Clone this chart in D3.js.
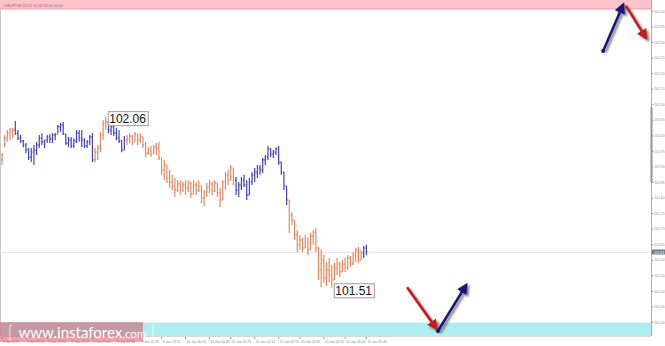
<!DOCTYPE html>
<html>
<head>
<meta charset="utf-8">
<script src="https://cdn.jsdelivr.net/npm/d3@7"></script>
<style>
body { margin: 0; background: #fff; }
svg { display: block; font-family: "Liberation Sans", sans-serif; }
</style>
</head>
<body>
<svg id="drawing_region"></svg>
<script>
// USDJPY M5 bars
const highs = [101.943,102.001,102.017,102.024,102.024,102.046,102.017,102.001,101.985,101.975,
101.959,101.959,101.969,101.979,102.001,102.007,101.985,102.001,102.004,102.007,
102.007,102.033,102.040,102.043,102.004,101.995,101.995,101.991,102.017,102.017,
102.017,101.991,101.985,102.001,102.007,101.959,101.969,102.011,102.049,102.059,
102.043,102.036,102.040,102.024,102.017,101.985,101.998,102.001,102.007,102.001,
102.011,102.004,102.007,101.995,101.979,101.962,101.966,101.969,101.975,101.979,
101.927,101.921,101.905,101.889,101.873,101.863,101.856,101.856,101.850,101.856,
101.856,101.850,101.856,101.850,101.856,101.837,101.824,101.847,101.856,101.850,
101.856,101.847,101.831,101.856,101.882,101.889,101.905,101.895,101.866,101.850,
101.866,101.873,101.856,101.863,101.882,101.895,101.905,101.905,101.927,101.937,
101.966,101.959,101.953,101.962,101.966,101.914,101.882,101.837,101.792,101.753,
101.728,101.696,101.680,101.670,101.680,101.670,101.686,101.696,101.702,101.641,
101.632,101.615,101.593,101.606,101.583,101.590,101.606,101.593,101.599,101.606,
101.615,101.612,101.625,101.638,101.641,101.632,101.644,101.648];
const lows = [101.905,101.962,101.979,101.985,101.991,102.001,101.985,101.975,101.962,101.943,
101.921,101.914,101.905,101.937,101.959,101.969,101.959,101.975,101.975,101.975,
101.985,102.007,102.011,102.001,101.969,101.962,101.959,101.959,101.975,101.979,
101.962,101.959,101.959,101.969,101.914,101.914,101.921,101.946,101.985,102.017,
102.007,102.001,101.998,101.985,101.975,101.946,101.953,101.969,101.975,101.969,
101.979,101.969,101.975,101.959,101.930,101.937,101.930,101.940,101.937,101.921,
101.873,101.856,101.847,101.831,101.824,101.802,101.818,101.808,101.818,101.808,
101.818,101.799,101.811,101.808,101.818,101.782,101.773,101.802,101.815,101.808,
101.818,101.802,101.770,101.792,101.824,101.840,101.856,101.840,101.808,101.802,
101.824,101.834,101.792,101.808,101.840,101.850,101.863,101.873,101.879,101.905,
101.921,101.930,101.927,101.937,101.905,101.873,101.824,101.776,101.686,101.712,
101.664,101.625,101.632,101.625,101.638,101.615,101.632,101.648,101.625,101.535,
101.512,101.525,101.516,101.528,101.510,101.535,101.551,101.545,101.561,101.561,
101.567,101.577,101.583,101.593,101.590,101.599,101.606,101.615];
const opens = [101.921,101.969,101.991,102.007,102.014,102.017,102.007,101.991,101.982,101.969,
101.953,101.930,101.946,101.953,101.969,101.991,101.979,101.985,101.995,101.988,
102.001,102.004,102.027,102.033,102.004,101.975,101.985,101.966,101.982,102.007,
101.991,101.985,101.966,101.979,101.995,101.921,101.946,101.959,102.001,102.036,
102.043,102.017,102.027,102.007,101.991,101.982,101.953,101.985,101.991,101.998,
101.979,102.004,101.985,101.995,101.969,101.943,101.953,101.940,101.962,101.959,
101.927,101.889,101.905,101.863,101.850,101.837,101.824,101.844,101.824,101.840,
101.831,101.847,101.811,101.840,101.824,101.837,101.799,101.818,101.834,101.844,
101.821,101.847,101.815,101.792,101.850,101.873,101.856,101.895,101.856,101.824,
101.840,101.856,101.840,101.808,101.850,101.873,101.882,101.895,101.889,101.921,
101.930,101.956,101.940,101.946,101.956,101.914,101.882,101.837,101.792,101.744,
101.728,101.680,101.648,101.664,101.638,101.670,101.632,101.676,101.689,101.638,
101.567,101.599,101.541,101.567,101.551,101.535,101.574,101.586,101.561,101.586,
101.574,101.606,101.586,101.615,101.632,101.599,101.622,101.638];
const closes = [101.937,101.991,102.007,102.017,102.017,102.007,101.991,101.982,101.969,101.953,
101.930,101.946,101.953,101.969,101.991,101.979,101.985,101.995,101.988,102.001,
102.004,102.027,102.033,102.004,101.975,101.985,101.966,101.982,102.007,101.991,
101.985,101.966,101.979,101.995,101.921,101.946,101.959,102.001,102.036,102.043,
102.017,102.027,102.007,101.991,101.982,101.953,101.985,101.991,101.998,101.979,
102.004,101.985,101.995,101.969,101.943,101.953,101.940,101.962,101.959,101.927,
101.889,101.905,101.863,101.850,101.837,101.824,101.844,101.824,101.840,101.831,
101.847,101.811,101.840,101.824,101.837,101.799,101.818,101.834,101.844,101.821,
101.847,101.815,101.792,101.850,101.873,101.856,101.895,101.856,101.824,101.840,
101.856,101.840,101.808,101.850,101.873,101.882,101.895,101.889,101.921,101.930,
101.956,101.940,101.946,101.956,101.914,101.882,101.837,101.792,101.744,101.728,
101.680,101.648,101.664,101.638,101.670,101.632,101.676,101.689,101.638,101.567,
101.599,101.541,101.567,101.551,101.535,101.574,101.586,101.561,101.586,101.574,
101.606,101.586,101.615,101.632,101.599,101.622,101.638,101.625];

// wave colouring: first bar index of each wave and its kind
const waveStarts = [0, 5, 35, 40, 47, 88, 108, 136];
const waveKinds  = ['up', 'down', 'up', 'down', 'up', 'down', 'up', 'down'];

const priceTicks = [102.40,102.35,102.30,102.25,102.20,102.15,102.10,102.05,102.00,101.95,
  101.90,101.85,101.80,101.75,101.70,101.65,101.60,101.55,101.50,101.45,101.40];
const timeTickBars = [0, 9, 17, 26, 34, 43, 52, 60, 69, 78, 86, 95, 104, 112, 121, 129, 137];
const timeTickLabels = ['9 Jan 2017','9 Jan 19:00','9 Jan 19:40','9 Jan 20:25','9 Jan 21:05',
  '9 Jan 21:50','9 Jan 22:35','9 Jan 23:15','10 Jan 00:00','10 Jan 00:45','10 Jan 01:25',
  '10 Jan 02:10','10 Jan 02:55','10 Jan 03:35','10 Jan 04:20','10 Jan 05:00','10 Jan 05:40'];
const headerText = '#USDJPY,M5  101.61 101.63 101.61 101.62';

// target zones (price ranges)
const resistZone = [102.405, 102.50];
const supportZone = [101.30, 101.398];

// forecast arrows: [bar index, price]
const arrowsUpper = [
  { kind: 'up',   from: [226.0, 102.271], to: [233.6, 102.421] },
  { kind: 'down', from: [234.6, 102.416], to: [242.2, 102.312] }
];
const arrowsLower = [
  { kind: 'down', from: [152.3, 101.512], to: [163.4, 101.378] },
  { kind: 'up',   from: [163.9, 101.371], to: [174.6, 101.520] }
];

const extremes = [ { bar: 39, price: 102.06, text: '102.06', side: 'high' },
                   { bar: 124, price: 101.51, text: '101.51', side: 'low' } ];

var config = {
    parent: '#drawing_region',
    width: 665,
    height: 346,
};

class BarChart {
    constructor( config ) {
        this.config = {
            parent: config.parent,
            width: config.width || 665,
            height: config.height || 346,
            plotRight: 651,
            plotBottom: 336,
        }
        this.init();
    }

    init(){
        let self = this;
        self.svg = d3.select( self.config.parent )
            .attr('width', self.config.width)
            .attr('height', self.config.height);

        self.xscale = d3.scaleLinear()
            .domain([0, 244])
            .range([2, self.config.plotRight]);

        self.yscale = d3.scaleLinear()
            .domain([101.355, 102.435])
            .range([self.config.plotBottom, 0]);

        self.color = { up: '#ec8156', down: '#3a3ac6' };
        self.arrowColor = { up: '#14167c', down: '#c41b1e' };
    }

    update(){
        let self = this;
        self.bars = highs.map( (h, i) => {
            let w = 0;
            waveStarts.forEach( (s, k) => { if (i >= s) w = k; });
            return { i: i, high: h, low: lows[i], open: opens[i], close: closes[i], kind: waveKinds[w] };
        });
        self.render();
    }

    render(){
        let self = this;
        const x = self.xscale, y = self.yscale;
        const W = self.config.plotRight, B = self.config.plotBottom;

        const defs = self.svg.append('defs');
        const shadow = defs.append('filter').attr('id', 'shadow')
            .attr('x', '-50%').attr('y', '-50%').attr('width', '200%').attr('height', '200%');
        shadow.append('feDropShadow').attr('dx', 2).attr('dy', 2)
            .attr('stdDeviation', 1.3).attr('flood-color', '#555').attr('flood-opacity', 0.75);
        ['up', 'down'].forEach( k => {
            defs.append('marker').attr('id', 'head-' + k)
                .attr('viewBox', '0 0 10 10').attr('refX', 8).attr('refY', 5)
                .attr('markerWidth', 4.4).attr('markerHeight', 4.2)
                .attr('markerUnits', 'strokeWidth').attr('orient', 'auto')
                .append('path').attr('d', 'M0,0 L10,5 L0,10 z')
                .attr('fill', self.arrowColor[k]);
        });

        // zones
        self.svg.append('rect')
            .attr('x', 0).attr('y', 0)
            .attr('width', W).attr('height', y(resistZone[0]))
            .attr('fill', '#ffc3cc');
        self.svg.append('line')
            .attr('x1', 0).attr('x2', W)
            .attr('y1', y(resistZone[0]) - 0.5).attr('y2', y(resistZone[0]) - 0.5)
            .attr('stroke', '#f4a3b1').attr('stroke-width', 1);
        self.svg.append('rect')
            .attr('x', 0).attr('y', y(supportZone[1]))
            .attr('width', W).attr('height', B - y(supportZone[1]))
            .attr('fill', '#b1ecee');

        // frame
        self.svg.append('line')
            .attr('x1', 0.5).attr('x2', 0.5).attr('y1', y(resistZone[0])).attr('y2', B)
            .attr('stroke', '#c8c8c8');

        // last price line
        const last = closes[closes.length - 1];
        self.svg.append('line')
            .attr('x1', 0).attr('x2', W)
            .attr('y1', Math.round(y(last)) + 0.5).attr('y2', Math.round(y(last)) + 0.5)
            .attr('stroke', '#e6e6e6');

        // OHLC bars
        const g = self.svg.append('g').attr('class', 'bars');
        const bar = g.selectAll('g')
            .data(self.bars)
            .enter()
            .append('g')
            .attr('stroke', d => self.color[d.kind])
            .attr('stroke-width', 1.15);
        bar.append('line')
            .attr('x1', d => x(d.i)).attr('x2', d => x(d.i))
            .attr('y1', d => y(d.high)).attr('y2', d => y(d.low));
        bar.append('line')
            .attr('x1', d => x(d.i) - 1).attr('x2', d => x(d.i))
            .attr('y1', d => y(d.open)).attr('y2', d => y(d.open));
        bar.append('line')
            .attr('x1', d => x(d.i)).attr('x2', d => x(d.i) + 1)
            .attr('y1', d => y(d.close)).attr('y2', d => y(d.close));

        // price axis
        const yaxis = d3.axisRight(y)
            .tickValues(priceTicks)
            .tickFormat(d3.format('.2f'))
            .tickSize(2)
            .tickPadding(1);
        const ya = self.svg.append('g')
            .attr('transform', `translate(${W + 0.5},0)`)
            .call(yaxis);
        ya.select('.domain').attr('stroke', '#a8aeb6').attr('d', `M0,0V${B}`);
        ya.selectAll('.tick line').attr('stroke', '#9a9a9a');
        ya.selectAll('.tick text')
            .attr('fill', '#8a8a8a').attr('font-size', 3.6)
            .attr('textLength', 10).attr('lengthAdjust', 'spacingAndGlyphs');
        self.svg.append('rect')
            .attr('x', W - 0.5).attr('y', y(102.09)).attr('width', 2)
            .attr('height', y(101.85) - y(102.09))
            .attr('fill', '#8b97a6');

        // last price box
        self.svg.append('rect')
            .attr('x', W + 1).attr('y', y(last) - 2.5).attr('width', 14).attr('height', 5)
            .attr('fill', '#6e7b8a');
        self.svg.append('text')
            .attr('x', W + 3).attr('y', y(last) + 1.5)
            .attr('font-size', 3.6).attr('fill', '#fff')
            .attr('textLength', 10).attr('lengthAdjust', 'spacingAndGlyphs')
            .text(d3.format('.2f')(last));

        // time axis
        self.svg.append('line')
            .attr('x1', 0).attr('x2', W).attr('y1', B + 0.5).attr('y2', B + 0.5)
            .attr('stroke', '#d8d8d8');
        const ta = self.svg.append('g').selectAll('g')
            .data(timeTickBars)
            .enter()
            .append('g')
            .attr('transform', d => `translate(${x(d)},${B})`);
        ta.append('line').attr('x1', 0).attr('x2', 0).attr('y1', 1).attr('y2', 3)
            .attr('stroke', '#9a9a9a');
        ta.append('text').attr('x', 1).attr('y', 7)
            .attr('font-size', 3.2).attr('fill', '#8a8a8a')
            .attr('textLength', (d, k) => timeTickLabels[k].length * 1.6)
            .attr('lengthAdjust', 'spacingAndGlyphs')
            .text( (d, k) => timeTickLabels[k] );

        // extreme labels
        extremes.forEach( e => {
            const tx = x(e.bar) + 2;
            const ty = e.side === 'high' ? y(e.price) - 5.5 : y(e.price) - 4.5;
            const lg = self.svg.append('g');
            const t = lg.append('text')
                .attr('x', tx + 1.5).attr('y', ty + 11.5)
                .attr('font-size', 12).attr('fill', '#111')
                .text(e.text);
            const bb = t.node().getBBox();
            lg.insert('rect', ':first-child')
                .attr('x', tx + 0.5).attr('y', ty + 0.5)
                .attr('width', Math.round(bb.width) + 3).attr('height', 14)
                .attr('fill', '#fff').attr('stroke', '#9a9a9a').attr('stroke-width', 1);
        });

        // arrows
        const drawArrows = list => {
            list.forEach( a => {
                self.svg.append('line')
                    .attr('x1', x(a.from[0])).attr('y1', y(a.from[1]))
                    .attr('x2', x(a.to[0])).attr('y2', y(a.to[1]))
                    .attr('stroke', self.arrowColor[a.kind])
                    .attr('stroke-width', 2.6)
                    .attr('marker-end', `url(#head-${a.kind})`)
                    .attr('filter', 'url(#shadow)');
            });
            const first = list[0].kind === 'up' ? list[0] : list[1];
            self.svg.append('circle')
                .attr('cx', x(first.from[0])).attr('cy', y(first.from[1])).attr('r', 2)
                .attr('fill', self.arrowColor.up);
        };
        drawArrows(arrowsUpper);
        drawArrows(arrowsLower);

        // header
        self.svg.append('text')
            .attr('x', 3).attr('y', 6.5)
            .attr('font-size', 3.4).attr('fill', '#6b6b6b')
            .attr('textLength', 60).attr('lengthAdjust', 'spacingAndGlyphs')
            .text(headerText);

        // watermark
        const wm = self.svg.append('g');
        wm.append('rect')
            .attr('x', 0).attr('y', 322).attr('width', 143).attr('height', 20)
            .attr('fill', '#d4485a').attr('fill-opacity', 0.5);
        const wt = wm.append('text')
            .attr('x', 8).attr('y', 338)
            .attr('fill', '#fff').attr('font-family', 'Lato, sans-serif');
        wt.append('tspan').attr('font-size', 15).attr('font-weight', 300).text('[');
        wt.append('tspan').attr('dx', 6).attr('font-size', 15).text('www.instaforex');
        wt.append('tspan').attr('font-size', 11.5).text('.com');
        wt.append('tspan').attr('dx', 4).attr('font-size', 15).attr('font-weight', 300).text(']');
    }
}

const chart = new BarChart( config );
chart.update();
</script>
</body>
</html>
